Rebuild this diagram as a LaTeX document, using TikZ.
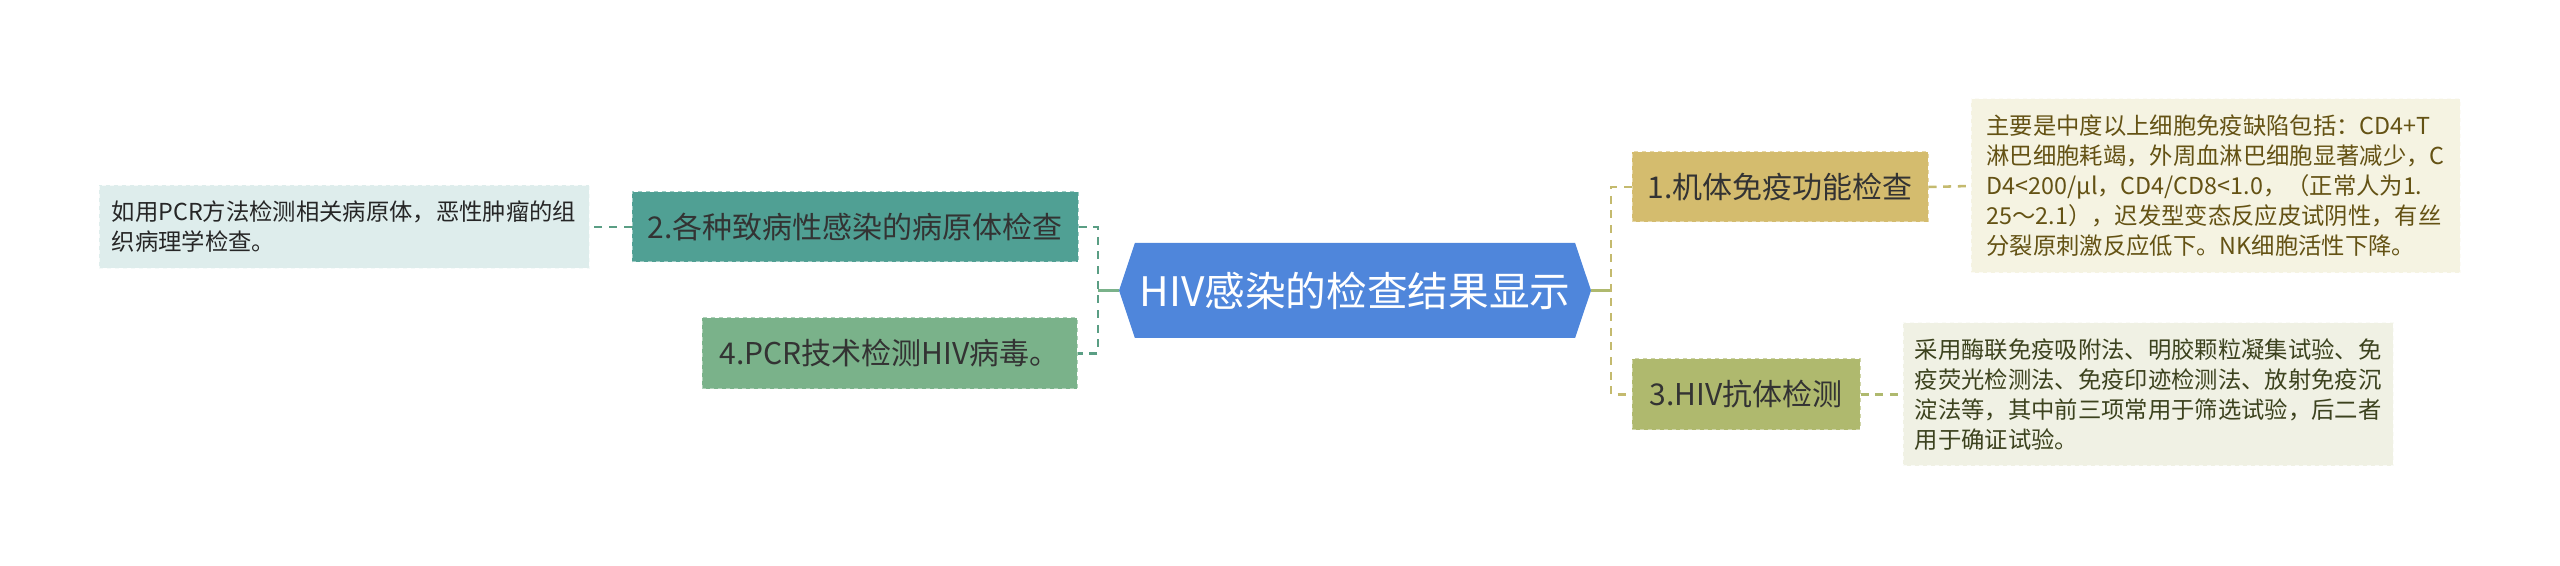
\documentclass[tikz,border=0pt]{standalone}
\usepackage{fontspec}
\setmainfont{Noto Sans CJK SC}
\usetikzlibrary{shapes.symbols}
\definecolor{rootblue}{RGB}{79,134,219}
\definecolor{tealbox}{RGB}{80,160,148}
\definecolor{greenbox}{RGB}{122,178,138}
\definecolor{goldbox}{RGB}{212,188,110}
\definecolor{olivebox}{RGB}{175,185,110}
\definecolor{tealleaf}{RGB}{222,237,236}
\definecolor{goldleaf}{RGB}{245,243,226}
\definecolor{oliveleaf}{RGB}{240,241,228}
\definecolor{tealline}{RGB}{90,158,132}
\definecolor{goldline}{RGB}{196,186,110}
\definecolor{goldtext}{RGB}{100,82,20}
\definecolor{olivetext}{RGB}{60,66,30}
\begin{document}
\begin{tikzpicture}[x=0.75pt,y=-0.75pt,
  topic/.style={inner sep=0pt,dashed,line width=0.75pt,text=black!80,font=\fontsize{22.5pt}{27pt}\selectfont},
  leaf/.style={inner sep=0pt,dashed,line width=0.75pt,align=left,font=\fontsize{17.5pt}{22.5pt}\selectfont},
  conn/.style={dashed,dash pattern=on 6pt off 5pt,line width=1.9pt}]
\useasboundingbox (0,0) rectangle (2560,566);
% central topic
\node[signal,signal to=west and east,signal pointer angle=143,fill=rootblue,text=white,inner sep=0pt,
  minimum width=354pt,minimum height=71.25pt,font=\fontsize{30.5pt}{36pt}\selectfont] (root) at (1355,290.5) {HIV感染的检查结果显示};
% left branch
\node[topic,fill=tealbox,draw=tealbox!55!white,minimum width=334.5pt,minimum height=52.5pt] (n2) at (855,227) {2.各种致病性感染的病原体检查};
\node[topic,fill=greenbox,draw=greenbox!60!white,minimum width=281.25pt,minimum height=53.25pt] (n4) at (889.5,353.5) {4.PCR技术检测HIV病毒。};
\node[leaf,fill=tealleaf,draw=white!70!tealleaf,text=black!85,minimum width=367.5pt,minimum height=62.25pt] (l2) at (344,227)
  {如用PCR方法检测相关病原体，恶性肿瘤的组\\织病理学检查。};
% right branch
\node[topic,fill=goldbox,draw=goldbox!60!white,minimum width=222pt,minimum height=52.5pt] (n1) at (1780,187) {1.机体免疫功能检查};
\node[topic,fill=olivebox,draw=olivebox!60!white,minimum width=171pt,minimum height=53.25pt] (n3) at (1746,394.5) {3.HIV抗体检测};
\node[leaf,fill=goldleaf,draw=white!70!goldleaf,text=goldtext,minimum width=366.75pt,minimum height=130.5pt] (l1) at (2215.5,186)
  {主要是中度以上细胞免疫缺陷包括：CD4+T\\淋巴细胞耗竭，外周血淋巴细胞显著减少，C\\D4<200/μl，CD4/CD8<1.0，（正常人为1.\\25～2.1），迟发型变态反应皮试阴性，有丝\\分裂原刺激反应低下。NK细胞活性下降。};
\node[leaf,fill=oliveleaf,draw=white!70!oliveleaf,text=olivetext,minimum width=367.5pt,minimum height=107.25pt] (l3) at (2148,394.5)
  {采用酶联免疫吸附法、明胶颗粒凝集试验、免\\疫荧光检测法、免疫印迹检测法、放射免疫沉\\淀法等，其中前三项常用于筛选试验，后二者\\用于确证试验。};
% connectors
\coordinate (lbr) at (1098,290.5);
\coordinate (rbr) at (1611,290.5);
\draw[line width=1.9pt,greenbox] (root.west) -- (lbr);
\draw[conn,tealline] (n2.east) -| (lbr) |- (n4.east);
\draw[line width=1.9pt,olivebox] (root.east) -- (rbr);
\draw[conn,goldline] (n1.west) -| (rbr) |- (n3.west);
\draw[conn,tealline] (n2.west) -- (l2.east);
\draw[conn,goldline] (n1.east) -- (l1.west);
\draw[conn,olivebox] (n3.east) -- (l3.west);
\end{tikzpicture}
\end{document}
